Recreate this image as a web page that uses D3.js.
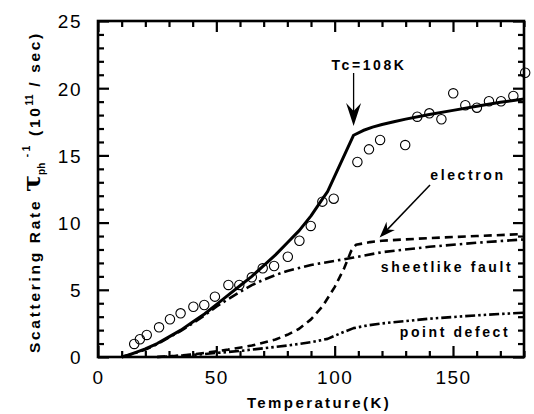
<!DOCTYPE html>
<html>
<head>
<meta charset="utf-8">
<script src="https://cdn.jsdelivr.net/npm/d3@7"></script>
<style>
  body { margin: 0; background: #fff; }
  svg { display: block; }
</style>
</head>
<body>
<div id="chart"></div>
<script>
// ---------------------------------------------------
// DATA: temperature K, rate 10^11 / sec
// ---------------------------------------------------
const measured = [
  [15.3, 0.97], [17.7, 1.32], [20.6, 1.64], [25.8, 2.21], [30.4, 2.81],
  [34.9, 3.25], [40.3, 3.74], [44.9, 3.87], [49.4, 4.49], [55.1, 5.36],
  [59.7, 5.36], [65.0, 5.93], [69.6, 6.60], [74.4, 6.77], [80.2, 7.46],
  [85.1, 8.65], [89.9, 9.75], [94.8, 11.56], [99.6, 11.78], [109.6, 14.51],
  [114.5, 15.45], [119.2, 16.15], [129.8, 15.77], [134.9, 17.88], [140.0, 18.13],
  [145.1, 17.69], [150.1, 19.62], [155.2, 18.73], [160.1, 18.55], [165.2, 19.03],
  [170.3, 19.03], [175.5, 19.42], [180.5, 21.15]
];

const totalFit = [
  [10, 0], [13, 0.15], [16, 0.35], [20, 0.6], [25, 1.0], [30, 1.5], [35, 2.0],
  [40, 2.6], [45, 3.2], [50, 3.9], [55, 4.6], [60, 5.3], [65, 6.0], [70, 6.8],
  [75, 7.6], [80, 8.5], [85, 9.4], [90, 10.5], [95, 11.8], [97, 12.3],
  [108, 16.5], [112, 16.85], [116, 17.1], [120, 17.3], [125, 17.5], [130, 17.7],
  [140, 18.05], [150, 18.35], [160, 18.65], [170, 18.95], [180, 19.2]
];

const electron = [
  [25, 0], [35, 0.1], [45, 0.3], [55, 0.55], [65, 0.85], [75, 1.3], [80, 1.65],
  [85, 2.1], [90, 2.8], [95, 3.8], [100, 5.2], [104, 6.6], [107, 7.9],
  [109, 8.35], [115, 8.55], [120, 8.65], [140, 8.85], [160, 9.0], [180, 9.15]
];

const sheetFault = [
  [10, 0], [15, 0.25], [20, 0.55], [25, 0.95], [30, 1.45], [35, 1.95], [40, 2.5],
  [45, 3.1], [50, 3.75], [55, 4.3], [60, 4.85], [65, 5.35], [70, 5.75], [75, 6.1],
  [80, 6.4], [90, 6.85], [100, 7.15], [108, 7.4], [120, 7.8], [140, 8.2],
  [160, 8.5], [180, 8.75]
];

const pointDefect = [
  [25, 0], [40, 0.15], [50, 0.3], [60, 0.45], [70, 0.65], [80, 0.85], [90, 1.1],
  [97, 1.35], [103, 1.8], [108, 2.15], [114, 2.35], [120, 2.5], [140, 2.85],
  [160, 3.1], [180, 3.3]
];

const xMajor = [0, 50, 100, 150];
const yMajor = [0, 5, 10, 15, 20, 25];

// ---------------------------------------------------
// DIMENSIONS
// ---------------------------------------------------
const width = 534, height = 414;
const plot = { left: 98, right: 524, top: 21, bottom: 357 };

const svg = d3.select("#chart").append("svg")
  .attr("width", width)
  .attr("height", height);

const x = d3.scaleLinear().domain([0, 180]).range([plot.left, plot.right]);
const y = d3.scaleLinear().domain([0, 25]).range([plot.bottom, plot.top]);

const FONT = "'Liberation Sans', Arial, Helvetica, sans-serif";

// ---------------------------------------------------
// AXES: ticks inward on all four sides
// ---------------------------------------------------
const xMinor = d3.range(0, 181, 10).filter(v => !xMajor.includes(v));
const yMinor = d3.range(0, 26, 1).filter(v => !yMajor.includes(v));

const axisStyle = g => {
  g.select(".domain").remove();
  g.selectAll(".tick line").attr("stroke", "#000").attr("stroke-width", 2.2);
};

const addAxis = (axisFn, scale, values, size, transform, showLabels) => {
  const a = axisFn(scale).tickValues(values).tickSizeInner(-size).tickSizeOuter(0);
  if (!showLabels) a.tickFormat("");
  return svg.append("g").attr("transform", transform).call(a).call(axisStyle);
};

// bottom
const bx = addAxis(d3.axisBottom, x, xMajor, 11, `translate(0,${plot.bottom})`, true);
addAxis(d3.axisBottom, x, xMinor, 6, `translate(0,${plot.bottom})`, false);
bx.selectAll(".tick text")
  .attr("y", 14).attr("dy", "0.71em")
  .style("font-family", FONT).style("font-size", "19px")
  .style("letter-spacing", "1.5px").attr("fill", "#000");
// top
addAxis(d3.axisTop, x, xMajor, 11, `translate(0,${plot.top})`, false);
addAxis(d3.axisTop, x, xMinor, 6, `translate(0,${plot.top})`, false);
// left
const ly = addAxis(d3.axisLeft, y, yMajor, 11, `translate(${plot.left},0)`, true);
addAxis(d3.axisLeft, y, yMinor, 6, `translate(${plot.left},0)`, false);
ly.selectAll(".tick text")
  .attr("x", -16).attr("dy", "0.36em")
  .style("font-family", FONT).style("font-size", "19px")
  .style("letter-spacing", "1.5px").attr("fill", "#000");
// right
addAxis(d3.axisRight, y, yMajor, 11, `translate(${plot.right},0)`, false);
addAxis(d3.axisRight, y, yMinor, 6, `translate(${plot.right},0)`, false);

// frame
svg.append("rect")
  .attr("x", plot.left).attr("y", plot.top)
  .attr("width", plot.right - plot.left).attr("height", plot.bottom - plot.top)
  .attr("fill", "none").attr("stroke", "#000").attr("stroke-width", 2.6);

// ---------------------------------------------------
// CURVES (linear joins keep the sharp kinks at Tc)
// ---------------------------------------------------
const line = d3.line()
  .x(d => x(d[0]))
  .y(d => y(d[1]))
  .curve(d3.curveLinear);

const curves = [
  { data: totalFit, dash: null, w: 3 },
  { data: electron, dash: "8,5", w: 2.6 },
  { data: sheetFault, dash: "10,4,2.5,4", w: 2.6 },
  { data: pointDefect, dash: "10,3,2.5,3,2.5,3", w: 2.6 }
];

svg.selectAll(".fit")
  .data(curves)
  .join("path")
  .attr("class", "fit")
  .attr("fill", "none")
  .attr("stroke", "#000")
  .attr("stroke-width", d => d.w)
  .attr("stroke-linejoin", "round")
  .attr("stroke-dasharray", d => d.dash)
  .attr("d", d => line(d.data));

// measured points: open circles
svg.selectAll(".pt")
  .data(measured)
  .join("circle")
  .attr("class", "pt")
  .attr("cx", d => x(d[0]))
  .attr("cy", d => y(d[1]))
  .attr("r", 4.7)
  .attr("fill", "none")
  .attr("stroke", "#000")
  .attr("stroke-width", 1.1);

// ---------------------------------------------------
// ANNOTATIONS
// ---------------------------------------------------
const label = (tx, ty, txt) => svg.append("text")
  .attr("x", tx).attr("y", ty)
  .attr("text-anchor", "middle")
  .style("font-family", FONT).style("font-size", "14px")
  .style("font-weight", "bold").style("letter-spacing", "2.6px")
  .text(txt);

label(369, 70, "Tc=108K");
label(468, 180, "electron");
label(447, 272, "sheetlike fault");
label(455, 337, "point defect");

// Tc arrow (vertical, filled head)
const tcX = x(108);
svg.append("line")
  .attr("x1", tcX).attr("x2", tcX)
  .attr("y1", 73).attr("y2", 120)
  .attr("stroke", "#000").attr("stroke-width", 1.3);
svg.append("path")
  .attr("d", `M${tcX - 7.5},${103} L${tcX},${126} L${tcX + 7.5},${103} L${tcX},${111} Z`)
  .attr("fill", "#000");

// electron arrow (diagonal)
const ex0 = 430, ey0 = 185, ex1 = x(119), ey1 = y(8.9);
svg.append("line")
  .attr("x1", ex0).attr("y1", ey0).attr("x2", ex1 + 5).attr("y2", ey1 - 5)
  .attr("stroke", "#000").attr("stroke-width", 1.5);
const ang = Math.atan2(ey1 - ey0, ex1 - ex0);
const head = (len, spread) => [ex1 - len * Math.cos(ang - spread), ey1 - len * Math.sin(ang - spread)];
const h1 = head(17, 0.35), h2 = head(17, -0.35), hm = head(11, 0);
svg.append("path")
  .attr("d", `M${h1[0]},${h1[1]} L${ex1},${ey1} L${h2[0]},${h2[1]} L${hm[0]},${hm[1]} Z`)
  .attr("fill", "#000");

// ---------------------------------------------------
// AXIS TITLES
// ---------------------------------------------------
svg.append("text")
  .attr("x", 319).attr("y", 408)
  .attr("text-anchor", "middle")
  .style("font-family", FONT).style("font-size", "15px")
  .style("font-weight", "bold").style("letter-spacing", "2.4px")
  .text("Temperature(K)");

const yt = svg.append("text")
  .attr("transform", `translate(40,192) rotate(-90)`)
  .attr("text-anchor", "middle")
  .style("font-family", FONT).style("font-size", "15.5px")
  .style("font-weight", "bold").style("letter-spacing", "2.7px");
yt.append("tspan").text("Scattering Rate ");
yt.append("tspan").style("font-size", "25px").style("font-family", "'DejaVu Serif', serif")
  .style("letter-spacing", "0px").text("τ");
yt.append("tspan").attr("dy", 5).style("font-size", "10px").style("letter-spacing", "0px").text("ph");
yt.append("tspan").attr("dy", -15).style("font-size", "10px").text(" -1");
yt.append("tspan").attr("dy", 10).text(" (10");
yt.append("tspan").attr("dy", -7).style("font-size", "10px").style("letter-spacing", "0.5px").text("11");
yt.append("tspan").attr("dy", 7).text(" / sec)");
</script>
</body>
</html>
